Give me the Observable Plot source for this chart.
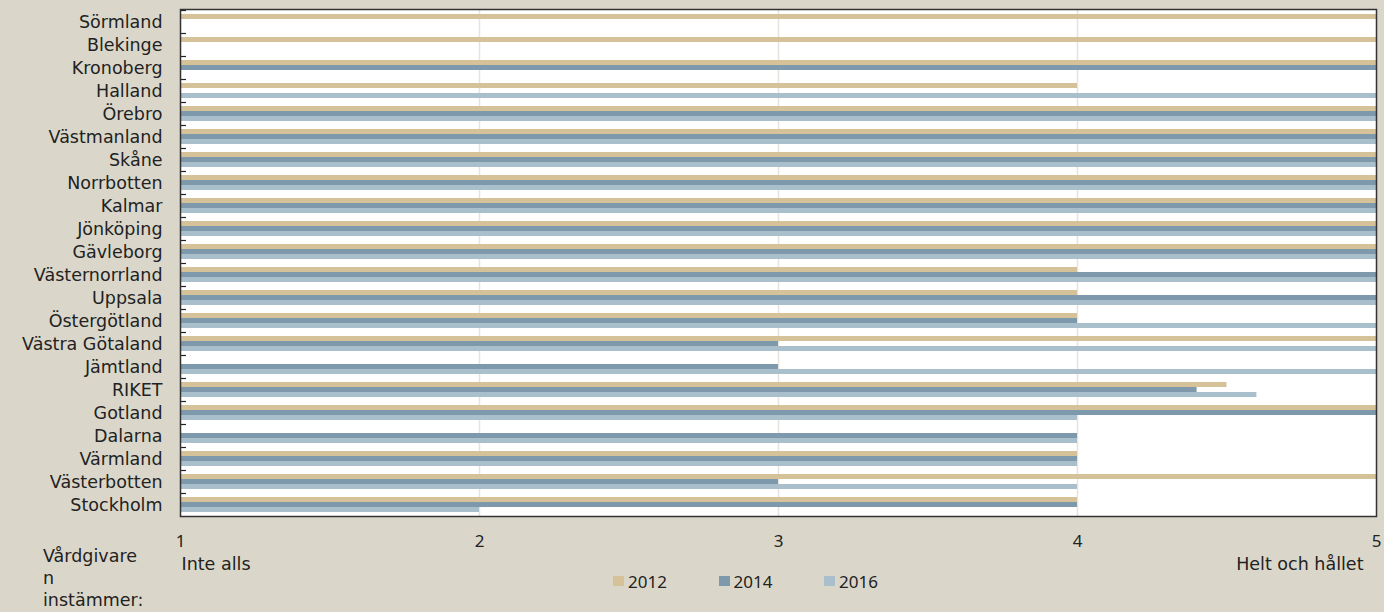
<!DOCTYPE html>
<html><head><meta charset="utf-8">
<script src="https://cdn.jsdelivr.net/npm/d3@7"></script>
<script src="https://cdn.jsdelivr.net/npm/@observablehq/plot@0.6"></script>
<style>
body{margin:0;background:#dad7ca;}
#wrap{position:relative;width:1384px;height:612px;overflow:hidden;background:#dad7ca;}
#wrap svg{position:absolute;left:0;top:0;}
#caption{position:absolute;left:43px;top:545px;font-family:"DejaVu Sans";font-size:17.5px;line-height:22px;color:#222;}
#legend{position:absolute;left:613px;top:571px;height:20px;display:flex;font-family:"Noto Sans";font-size:17px;color:#222;}
#legend .item{width:105.5px;display:flex;align-items:center;height:20px;}
#legend .sw{width:11px;height:10px;margin-right:4px;}
</style></head><body><div id="wrap"></div><script>
const regions = ["Sörmland","Blekinge","Kronoberg","Halland","Örebro","Västmanland","Skåne","Norrbotten","Kalmar","Jönköping","Gävleborg","Västernorrland","Uppsala","Östergötland","Västra Götaland","Jämtland","RIKET","Gotland","Dalarna","Värmland","Västerbotten","Stockholm"];
const years = ["2012","2014","2016"];
const v2012 = [5,5,5,4,5,5,5,5,5,5,5,4,4,4,5,null,4.5,5,null,4,5,4];
const v2014 = [null,null,5,null,5,5,5,5,5,5,5,5,5,4,3,3,4.4,5,4,4,3,4];
const v2016 = [null,null,null,5,5,5,5,5,5,5,5,5,5,5,5,5,4.6,4,4,4,4,2];
const xTicks = [1,2,3,4,5];
const endLabels = ["Inte alls","Helt och hållet"];
const captionLines = ["Vårdgivare","n","instämmer:"];
const colors = ["#d5c298","#7d99ab","#a9bfcb"];
const baseline = 1;

const seriesVals = [v2012, v2014, v2016];
const table = [];
years.forEach((yr, i) => regions.forEach((r, j) => {
  if (seriesVals[i][j] != null) table.push({region: r, year: yr, value: seriesVals[i][j]});
}));

const chart = Plot.plot({
  width: 1384, height: 612,
  marginTop: 9, marginBottom: 96, marginLeft: 180, marginRight: 8,
  style: {background: "transparent", fontFamily: "DejaVu Sans", fontSize: "17.5px", color: "#222"},
  x: {domain: [xTicks[0], xTicks[xTicks.length - 1]], label: null},
  y: {domain: regions, padding: 0, label: null},
  marks: [
    Plot.frame({fill: "white"}),
    Plot.ruleX(xTicks.slice(1, -1), {stroke: "#e6e4dd", strokeWidth: 1.5}),
    ...years.map((yr, i) => Plot.barX(table.filter(d => d.year === yr), {
      y: "region", x1: baseline, x2: "value", fill: colors[i],
      insetTop: 4 + 5 * i, insetBottom: 14 - 5 * i
    })),
    Plot.tickY(regions, {y: d => d, dy: -11.5, insetRight: 1190, stroke: "#222", strokeWidth: 1.2}),
    Plot.axisY({tickSize: 0, tickPadding: 18, fontSize: 17.5, fontFamily: "DejaVu Sans", label: null}),
    Plot.axisX({ticks: xTicks, tickFormat: d3.format("d"), tickSize: 0, tickPadding: 18, fontFamily: "Noto Sans", fontSize: 17, label: null}),
    Plot.text([endLabels[0]], {x: [xTicks[0]], text: d => d, frameAnchor: "bottom", dy: 48, dx: 1, textAnchor: "start", lineAnchor: "middle", fontSize: 17.5, fontFamily: "DejaVu Sans"}),
    Plot.text([endLabels[1]], {x: [xTicks[xTicks.length - 1]], text: d => d, frameAnchor: "bottom", dy: 48, dx: -13, textAnchor: "end", lineAnchor: "middle", fontSize: 17.5, fontFamily: "DejaVu Sans"}),
    Plot.frame({stroke: "#333", strokeWidth: 1.5})
  ]
});
const wrap = document.getElementById("wrap");
wrap.appendChild(chart);

const cap = document.createElement("div");
cap.id = "caption";
cap.innerHTML = captionLines.join("<br>");
wrap.appendChild(cap);

const leg = document.createElement("div");
leg.id = "legend";
years.forEach((yr, i) => {
  const it = document.createElement("div");
  it.className = "item";
  it.innerHTML = `<span class="sw" style="background:${colors[i]}"></span><span>${yr}</span>`;
  leg.appendChild(it);
});
wrap.appendChild(leg);
</script></body></html>
